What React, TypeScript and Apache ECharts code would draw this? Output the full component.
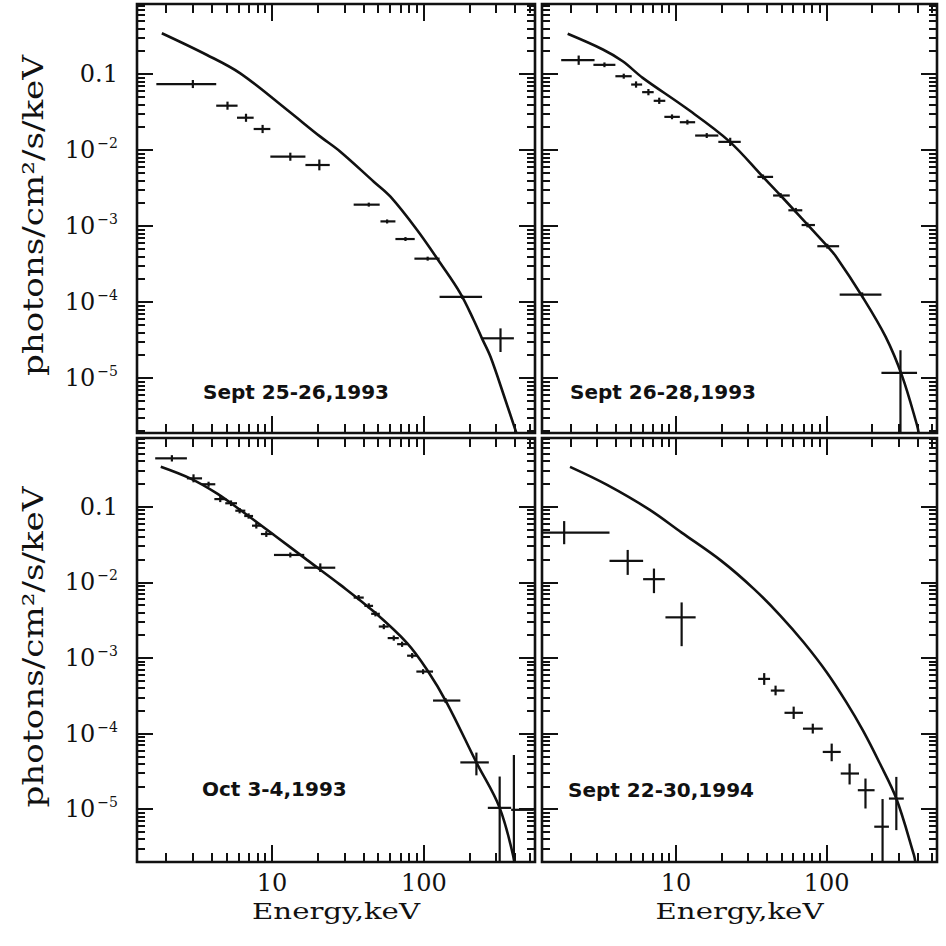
import React, { useEffect, useRef } from "react";
import * as echarts from "echarts";

// ---------- axes ----------
const X_MIN = 1.29;
const X_MAX = 540;
const Y_RANGE_TOP = [1.89e-6, 0.834];
const Y_RANGE_BOTTOM = [2.0e-6, 0.81];

const X_LABEL_VALUES = [10, 100];
const X_LABEL_TEXTS = ["10", "100"];
const Y_LABEL_VALUES = [0.1, 1e-2, 1e-3, 1e-4, 1e-5];
const Y_LABEL_TEXTS = ["{m|0.1}", "{m|10}{s|−2}", "{m|10}{s|−3}", "{m|10}{s|−4}", "{m|10}{s|−5}"];

const X_MAJOR_TICKS = [10, 100];
const X_MINOR_TICKS = [2, 3, 4, 5, 6, 7, 8, 9, 20, 30, 40, 50, 60, 70, 80, 90, 200, 300, 400, 500];
const Y_MAJOR_TICKS = [1e-5, 1e-4, 1e-3, 1e-2, 0.1];
const Y_MINOR_DECADES = [1e-6, 1e-5, 1e-4, 1e-3, 1e-2, 0.1];
const Y_MINOR_MULTIPLES = [2, 3, 4, 5, 6, 7, 8, 9];

const X_TITLE = "Energy,keV";
const Y_TITLE = "photons/cm²/s/keV";

// ---------- Sept 25-26, 1993 ----------
const sep25_E = [3.01, 5.09, 6.74, 8.67, 13.2, 20.5, 43.4, 57.3, 75.7, 106, 179, 320];
const sep25_Elo = [1.73, 4.29, 5.88, 7.57, 9.75, 16.6, 34.5, 51.8, 65.0, 86.7, 127, 242];
const sep25_Ehi = [4.29, 5.93, 7.57, 9.75, 16.6, 24.0, 51.2, 65.0, 87.1, 127, 242, 392];
const sep25_F = [0.0738, 0.0383, 0.0266, 0.0189, 0.00816, 0.00635, 0.00191, 0.00115, 6.74e-4, 3.72e-4, 1.17e-4, 3.33e-5];
const sep25_Flo = [0.0653, 0.0339, 0.0235, 0.0167, 0.00722, 0.0054, 0.0018, 0.00108, 6.35e-4, 3.5e-4, 1.1e-4, 2.2e-5];
const sep25_Fhi = [0.0834, 0.0433, 0.03, 0.0214, 0.00922, 0.0075, 0.00203, 0.00122, 7.15e-4, 3.95e-4, 1.24e-4, 4.5e-5];
const sep25_modelE = [1.88, 3.73, 6.18, 12.6, 20.8, 28.2, 46.8, 60.3, 90.3, 128.6, 174, 213, 242, 275, 345, 407];
const sep25_modelF = [0.344, 0.178, 0.102, 0.0336, 0.015, 0.0095, 0.00383, 0.00243, 8.86e-4, 3.23e-4, 1.3e-4, 5.8e-5, 3.3e-5, 1.9e-5, 5.1e-6, 1.9e-6];

// ---------- Sept 26-28, 1993 ----------
const sep26_E = [2.26, 3.35, 4.5, 5.43, 6.56, 7.74, 9.41, 11.9, 16.0, 22.9, 37.8, 49.5, 62.4, 74.5, 101, 172, 309];
const sep26_Elo = [1.73, 2.83, 3.96, 5.04, 5.96, 7.11, 8.37, 10.6, 13.4, 19.1, 34.7, 44.1, 55.7, 68.2, 86.7, 122, 231];
const sep26_Ehi = [2.88, 3.96, 5.08, 5.96, 7.11, 8.49, 10.6, 13.4, 19.1, 26.9, 44.1, 56.9, 68.9, 83.6, 121, 231, 398];
const sep26_F = [0.152, 0.132, 0.0935, 0.0727, 0.0577, 0.0444, 0.0273, 0.0232, 0.0155, 0.0128, 0.00443, 0.00252, 0.00161, 0.00103, 5.42e-4, 1.25e-4, 1.17e-5];
const sep26_Flo = [0.132, 0.123, 0.0868, 0.0661, 0.0525, 0.0404, 0.0254, 0.0216, 0.0144, 0.0113, 0.00412, 0.00234, 0.0015, 0.00096, 5.04e-4, 1.16e-4, 1.0e-6];
const sep26_Fhi = [0.175, 0.142, 0.101, 0.08, 0.0635, 0.0488, 0.0294, 0.025, 0.0167, 0.0145, 0.00476, 0.00271, 0.00173, 0.00111, 5.83e-4, 1.34e-4, 2.32e-5];
const sep26_modelE = [1.91, 3.27, 4.43, 6.01, 11.6, 22.5, 37.8, 49.5, 101, 115, 172, 246, 317, 398, 408];
const sep26_modelF = [0.338, 0.21, 0.147, 0.089, 0.0359, 0.0131, 0.00443, 0.00252, 5.42e-4, 4.0e-4, 1.19e-4, 3.5e-5, 1.06e-5, 2.4e-6, 1.9e-6];

// ---------- Oct 3-4, 1993 ----------
const oct3_E = [2.19, 3.04, 3.82, 4.56, 5.37, 6.12, 7.01, 7.88, 9.17, 13.2, 20.8, 37.2, 43.4, 48.0, 54.5, 63.4, 71.9, 83.8, 98.9, 139, 222, 316, 392];
const oct3_Elo = [1.7, 2.75, 3.46, 4.17, 4.92, 5.73, 6.56, 7.38, 8.45, 10.3, 16.3, 34.5, 40.6, 45.0, 50.5, 57.8, 66.7, 77.6, 89.3, 115, 174, 264, 376];
const oct3_Ehi = [2.75, 3.46, 4.23, 5.0, 5.88, 6.67, 7.5, 8.45, 10.2, 16.3, 26.1, 40.2, 46.3, 51.3, 58.7, 68.4, 77.6, 90.3, 115, 174, 268, 376, 530];
const oct3_F = [0.436, 0.237, 0.198, 0.126, 0.111, 0.0885, 0.0753, 0.0561, 0.0435, 0.023, 0.0156, 0.00628, 0.00488, 0.00383, 0.0026, 0.00183, 0.00152, 0.00107, 6.6e-4, 2.73e-4, 4.15e-5, 1.04e-5, 9.8e-6];
const oct3_Flo = [0.396, 0.21, 0.183, 0.115, 0.102, 0.0816, 0.0694, 0.0514, 0.0398, 0.0213, 0.0137, 0.0058, 0.00451, 0.00354, 0.0024, 0.00169, 0.0014, 9.9e-4, 6.1e-4, 2.53e-4, 2.8e-5, 1.0e-6, 1.0e-6];
const oct3_Fhi = [0.48, 0.268, 0.214, 0.138, 0.121, 0.096, 0.0817, 0.0612, 0.0475, 0.0248, 0.0178, 0.0068, 0.00528, 0.00414, 0.00281, 0.00198, 0.00164, 0.00116, 7.1e-4, 2.95e-4, 5.6e-5, 2.7e-5, 5.2e-5];
const oct3_modelE = [1.85, 2.89, 4.33, 6.18, 10.3, 17.0, 28.2, 46.8, 77.6, 105, 142, 222, 316, 396];
const oct3_modelF = [0.338, 0.237, 0.15, 0.0904, 0.0423, 0.0198, 0.00925, 0.0041, 0.00157, 6.97e-4, 2.53e-4, 4.15e-5, 1.04e-5, 2.0e-6];

// ---------- Sept 22-30, 1994 ----------
const sep22_E = [1.81, 4.78, 7.14, 10.9, 38.5, 45.8, 60.4, 80.9, 108, 142, 181, 235, 290];
const sep22_Elo = [1.3, 3.62, 6.05, 8.51, 35.1, 42.6, 52.5, 69.6, 94.2, 124, 161, 207, 259];
const sep22_Ehi = [3.62, 6.05, 8.43, 13.5, 42.1, 52.5, 69.6, 94.2, 124, 164, 208, 259, 325];
const sep22_F = [0.0454, 0.0192, 0.011, 0.00344, 5.28e-4, 3.7e-4, 1.88e-4, 1.16e-4, 5.71e-5, 2.96e-5, 1.78e-5, 5.86e-6, 1.38e-5];
const sep22_Flo = [0.0319, 0.01253, 0.00719, 0.00143, 4.4e-4, 3.2e-4, 1.56e-4, 1.0e-4, 4.3e-5, 2.12e-5, 1.02e-5, 1.0e-6, 5.28e-6];
const sep22_Fhi = [0.0645, 0.0268, 0.0152, 0.00542, 6.3e-4, 4.3e-4, 2.27e-4, 1.35e-4, 7.36e-5, 4.0e-5, 2.54e-5, 1.36e-5, 2.67e-5];
const sep22_modelE = [1.98, 3.44, 6.62, 10.9, 20.0, 33.0, 49.4, 70.3, 100, 135, 174, 223, 290, 379, 388];
const sep22_modelF = [0.336, 0.197, 0.0921, 0.0454, 0.0192, 0.00813, 0.00361, 0.00161, 6.47e-4, 2.6e-4, 1.1e-4, 4.2e-5, 1.38e-5, 2.5e-6, 2.0e-6];

const PANEL_LABELS = ["Sept 25-26,1993", "Sept 26-28,1993", "Oct 3-4,1993", "Sept 22-30,1994"];

const INK = "#111111";
const SERIF = "DejaVu Serif";

type Panel = {
  label: string;
  E: number[]; Elo: number[]; Ehi: number[];
  F: number[]; Flo: number[]; Fhi: number[];
  mE: number[]; mF: number[];
  yRange: number[];
  rect: { left: number; top: number; width: number; height: number };
  labelPos: [number, number];
  showX: boolean;
  showY: boolean;
};

const PANELS: Panel[] = [
  {
    label: PANEL_LABELS[0], E: sep25_E, Elo: sep25_Elo, Ehi: sep25_Ehi, F: sep25_F, Flo: sep25_Flo, Fhi: sep25_Fhi,
    mE: sep25_modelE, mF: sep25_modelF, yRange: Y_RANGE_TOP,
    rect: { left: 137, top: 4, width: 398, height: 429 }, labelPos: [203, 392], showX: false, showY: true,
  },
  {
    label: PANEL_LABELS[1], E: sep26_E, Elo: sep26_Elo, Ehi: sep26_Ehi, F: sep26_F, Flo: sep26_Flo, Fhi: sep26_Fhi,
    mE: sep26_modelE, mF: sep26_modelF, yRange: Y_RANGE_TOP,
    rect: { left: 542, top: 4, width: 395, height: 429 }, labelPos: [570, 392], showX: false, showY: false,
  },
  {
    label: PANEL_LABELS[2], E: oct3_E, Elo: oct3_Elo, Ehi: oct3_Ehi, F: oct3_F, Flo: oct3_Flo, Fhi: oct3_Fhi,
    mE: oct3_modelE, mF: oct3_modelF, yRange: Y_RANGE_BOTTOM,
    rect: { left: 137, top: 438, width: 398, height: 424 }, labelPos: [202, 789], showX: true, showY: true,
  },
  {
    label: PANEL_LABELS[3], E: sep22_E, Elo: sep22_Elo, Ehi: sep22_Ehi, F: sep22_F, Flo: sep22_Flo, Fhi: sep22_Fhi,
    mE: sep22_modelE, mF: sep22_modelF, yRange: Y_RANGE_BOTTOM,
    rect: { left: 542, top: 438, width: 395, height: 424 }, labelPos: [568, 790], showX: true, showY: false,
  },
];

const matchTick = (v: number, values: number[]) => {
  const lv = Math.log10(v);
  return values.findIndex((t) => Math.abs(Math.log10(t) - lv) < 1e-6);
};

const yMinorTicks = (yRange: number[]) => {
  const out: number[] = [];
  Y_MINOR_DECADES.forEach((dec) =>
    Y_MINOR_MULTIPLES.forEach((m) => {
      const v = dec * m;
      if (v > yRange[0] * 1.001 && v < yRange[1]) out.push(v);
    })
  );
  return out;
};

const crossRender = (params: any, api: any) => {
  const cs = params.coordSys;
  const e = api.value(0);
  const f = api.value(1);
  const a = api.coord([api.value(2), f]);
  const b = api.coord([api.value(3), f]);
  const lo = api.coord([e, api.value(4)]);
  const hi = api.coord([e, api.value(5)]);
  const cx = (v: number) => Math.max(cs.x, Math.min(cs.x + cs.width, v));
  const cy = (v: number) => Math.max(cs.y, Math.min(cs.y + cs.height, v));
  return {
    type: "group",
    children: [
      { type: "line", shape: { x1: cx(a[0]), y1: a[1], x2: cx(b[0]), y2: b[1] }, style: { stroke: INK, lineWidth: 2.2 } },
      { type: "line", shape: { x1: lo[0], y1: cy(lo[1]), x2: hi[0], y2: cy(hi[1]) }, style: { stroke: INK, lineWidth: 2.2 } },
    ],
  };
};

const LOG = (v: number) => Math.log10(v);

// linear axes in decades, sharing the log axes' extent; they carry only the inward frame ticks
function tickAxis(gridIndex: number, position: string, extent: number[], values: number[], length: number) {
  return {
    type: "value",
    gridIndex,
    position,
    min: LOG(extent[0]),
    max: LOG(extent[1]),
    axisLine: { show: false },
    axisLabel: { show: false },
    splitLine: { show: false },
    axisTick: {
      show: true,
      inside: true,
      length,
      lineStyle: { color: INK, width: 2 },
      customValues: values.map(LOG),
    },
  };
}

function buildOption() {
  const grid = PANELS.map((p) => ({
    ...p.rect,
    show: true,
    borderColor: INK,
    borderWidth: 2.6,
  }));

  const xAxis: any[] = PANELS.map((p, i) => ({
    type: "log",
    logBase: 10,
    gridIndex: i,
    min: X_MIN,
    max: X_MAX,
    axisLine: { show: false },
    axisTick: { show: false },
    splitLine: { show: false },
    axisLabel: {
      show: p.showX,
      margin: 9,
      color: INK,
      fontFamily: SERIF,
      fontSize: 24,
      formatter: (v: number) => {
        const k = matchTick(v, X_LABEL_VALUES);
        return k < 0 ? "" : X_LABEL_TEXTS[k];
      },
    },
  }));

  const yAxis: any[] = PANELS.map((p, i) => ({
    type: "log",
    logBase: 10,
    gridIndex: i,
    min: p.yRange[0],
    max: p.yRange[1],
    axisLine: { show: false },
    axisTick: { show: false },
    splitLine: { show: false },
    axisLabel: {
      show: p.showY,
      margin: 19,
      color: INK,
      formatter: (v: number) => {
        const k = matchTick(v, Y_LABEL_VALUES);
        return k < 0 ? "" : Y_LABEL_TEXTS[k];
      },
      rich: {
        m: { fontFamily: SERIF, fontSize: 24, color: INK, lineHeight: 28 },
        s: { fontFamily: SERIF, fontSize: 14, color: INK, lineHeight: 14, verticalAlign: "top", padding: [0, 0, 0, 2] },
      },
    },
  }));

  // frame ticks on all four sides of each panel
  PANELS.forEach((p, i) => {
    const xr = [X_MIN, X_MAX];
    ["bottom", "top"].forEach((pos) => {
      xAxis.push(tickAxis(i, pos, xr, X_MINOR_TICKS, 9));
      xAxis.push(tickAxis(i, pos, xr, X_MAJOR_TICKS, 17));
    });
    ["left", "right"].forEach((pos) => {
      yAxis.push(tickAxis(i, pos, p.yRange, yMinorTicks(p.yRange), 8));
      yAxis.push(tickAxis(i, pos, p.yRange, Y_MAJOR_TICKS, 16));
    });
  });

  const series: any[] = [];
  PANELS.forEach((p, i) => {
    series.push({
      type: "line",
      xAxisIndex: i,
      yAxisIndex: i,
      symbol: "none",
      showSymbol: false,
      smooth: 0.35,
      clip: true,
      lineStyle: { color: INK, width: 2.6 },
      data: p.mE.map((e, k) => [e, p.mF[k]]),
    });
    series.push({
      type: "custom",
      xAxisIndex: i,
      yAxisIndex: i,
      renderItem: crossRender,
      data: p.E.map((e, k) => [e, p.F[k], p.Elo[k], p.Ehi[k], p.Flo[k], p.Fhi[k]]),
    });
  });

  // titles and captions
  const graphics: any[] = [];
  [PANELS[0], PANELS[2]].forEach((p) => {
    graphics.push({
      type: "text",
      x: 33,
      y: p.rect.top + p.rect.height / 2 - 3,
      rotation: Math.PI / 2,
      scaleX: 1.22,
      style: {
        text: Y_TITLE, fill: INK, fontFamily: SERIF, fontSize: 28,
        align: "center", verticalAlign: "middle", textAlign: "center", textVerticalAlign: "middle",
      },
    });
  });
  [PANELS[2], PANELS[3]].forEach((p) => {
    graphics.push({
      type: "text",
      x: p.rect.left + p.rect.width / 2,
      y: 911,
      scaleX: 1.27,
      style: {
        text: X_TITLE, fill: INK, fontFamily: SERIF, fontSize: 23,
        align: "center", verticalAlign: "middle", textAlign: "center", textVerticalAlign: "middle",
      },
    });
  });
  PANELS.forEach((p) => {
    graphics.push({
      type: "text",
      x: p.labelPos[0],
      y: p.labelPos[1],
      style: {
        text: p.label, fill: INK, fontFamily: "DejaVu Sans", fontWeight: "bold", fontSize: 20,
        align: "left", verticalAlign: "middle", textAlign: "left", textVerticalAlign: "middle",
      },
    });
  });

  return {
    animation: false,
    backgroundColor: "#ffffff",
    grid,
    xAxis,
    yAxis,
    series,
    graphic: { elements: graphics },
  };
}

export default function App() {
  const ref = useRef<HTMLDivElement>(null);
  useEffect(() => {
    document.body.style.margin = "0";
    if (!ref.current) return;
    const chart = echarts.init(ref.current, undefined, { renderer: "svg" });
    chart.setOption(buildOption() as any);
    return () => chart.dispose();
  }, []);
  return <div ref={ref} style={{ width: 946, height: 946 }} />;
}
